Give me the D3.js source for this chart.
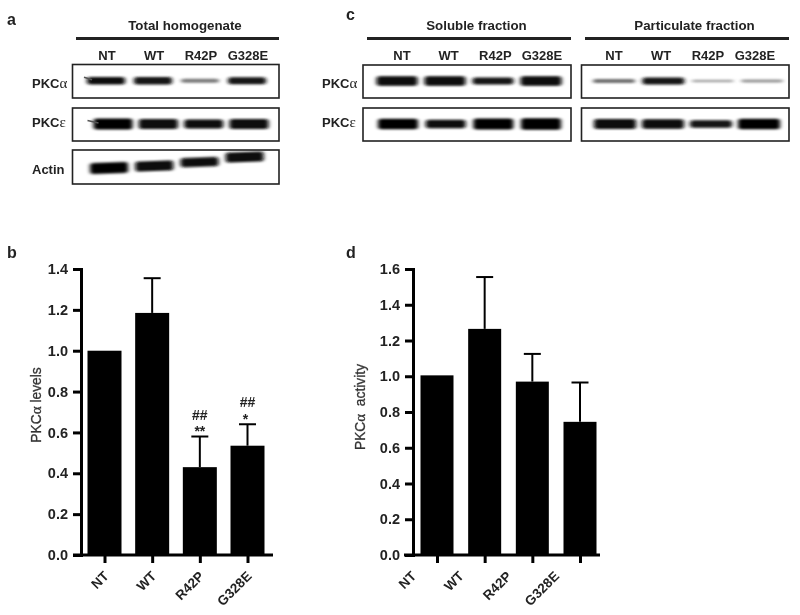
<!DOCTYPE html>
<html>
<head>
<meta charset="utf-8">
<title>PKC blots and bars</title>
<style>
  body { margin: 0; background: #fff; }
  text { font-family: "Liberation Sans", Arial, sans-serif; font-weight: bold; fill: #242424; }
  .greek { font-family: "Liberation Serif", serif; font-weight: normal; }
  .ytitle { font-weight: normal; font-size: 13.8px; fill: #333; stroke: #333; stroke-width: 0.3px; }
</style>
</head>
<body>
<svg width="800" height="615"></svg>
<script src="https://d3js.org/d3.v7.min.js"></script>
<script>

var lanes = ["NT", "WT", "R42P", "G328E"];

// bar values
var levelValues = [1.0, 1.185, 0.43, 0.535];
var levelErrors = [0, 0.17, 0.15, 0.105];
var levelTicks = [0, 0.2, 0.4, 0.6, 0.8, 1.0, 1.2, 1.4];

var activityValues = [1.005, 1.265, 0.97, 0.745];
var activityErrors = [0, 0.29, 0.155, 0.22];
var activityTicks = [0, 0.2, 0.4, 0.6, 0.8, 1.0, 1.2, 1.4, 1.6];

// significance marks above bars, per lane
var levelMarks = [null, null, ["##", "**"], ["##", "*"]];

// blots: density 0..1 of each band, drift = band shift against the lane mean
var totalAlpha = [0.62, 0.58, 0.22, 0.55];
var totalEpsilon = [0.95, 0.85, 0.75, 0.85];
var totalActin = [0.95, 0.85, 0.78, 0.85];
var actinDrift = [0.2, -0.05, -0.55, -1.2];
var solubleAlpha = [0.8, 0.8, 0.55, 0.8];
var solubleEpsilon = [0.92, 0.72, 0.95, 1.0];
var particulateAlpha = [0.25, 0.55, 0.1, 0.14];
var particulateEpsilon = [0.85, 0.8, 0.6, 0.9];
var noDrift = [0, 0, 0, 0];

var svg = d3.select("svg");

var defs = svg.append("defs");
defs.append("filter").attr("id", "smear")
    .attr("x", "-20%").attr("y", "-300%").attr("width", "140%").attr("height", "700%")
  .append("feGaussianBlur").attr("stdDeviation", "2.2 1.2");
defs.append("filter").attr("id", "soft")
  .append("feGaussianBlur").attr("stdDeviation", 0.35);
defs.append("filter").attr("id", "tail")
    .attr("x", "-50%").attr("y", "-200%").attr("width", "200%").attr("height", "500%")
  .append("feGaussianBlur").attr("stdDeviation", 0.7);

var page = svg.append("g").attr("filter", "url(#soft)");

function panelLetter(letter, x, y) {
  page.append("text").attr("x", x).attr("y", y).attr("font-size", 16).text(letter);
}

function proteinLabel(x, y, prefix, greek) {
  var t = page.append("text").attr("x", x).attr("y", y).attr("font-size", 13);
  t.append("tspan").text(prefix);
  if (greek) t.append("tspan").attr("class", "greek").attr("font-size", 15).text(greek);
}

function header(title, x0, x1, labelX0, labelX1, laneY) {
  page.append("line").attr("x1", x0).attr("x2", x1).attr("y1", 38.5).attr("y2", 38.5)
      .attr("stroke", "#222").attr("stroke-width", 2.8);
  page.append("text").attr("x", (x0 + x1) / 2 + 7.5).attr("y", 30).attr("text-anchor", "middle")
      .attr("font-size", 13.3).text(title);
  var x = d3.scalePoint().domain(lanes).range([labelX0, labelX1]);
  page.selectAll(null).data(lanes).enter().append("text")
      .attr("x", function(d) { return x(d); })
      .attr("y", laneY)
      .attr("text-anchor", "middle").attr("font-size", 13)
      .text(function(d) { return d; });
}

// one boxed blot strip; bands are blurred rounded rects
function blot(x0, x1, y0, y1, laneX0, laneX1, bandWidth, density, drift, tilt, tail) {
  var x = d3.scalePoint().domain(lanes).range([laneX0, laneX1]);
  var thick = d3.scaleLinear().domain([0, 1]).range([1.6, 11.5]);
  var shade = d3.scaleLinear().domain([0, 0.5, 1]).range(["#c8c8c8", "#161616", "#000"]);
  var mid = (y0 + y1) / 2;
  var clipId = "clip" + Math.round(x0) + "_" + Math.round(y0);
  defs.append("clipPath").attr("id", clipId).append("rect")
      .attr("x", x0).attr("y", y0).attr("width", x1 - x0).attr("height", y1 - y0);
  var strip = page.append("g").attr("clip-path", "url(#" + clipId + ")");
  strip.selectAll("rect").data(density).enter().append("rect")
      .attr("x", function(d, i) { return x(lanes[i]) - bandWidth / 2; })
      .attr("y", function(d, i) { return mid - thick(d) / 2 + drift[i] * 8 - 0.5; })
      .attr("width", bandWidth)
      .attr("height", function(d) { return thick(d); })
      .attr("rx", 3)
      .attr("fill", function(d) { return shade(d); })
      .attr("filter", "url(#smear)")
      .attr("transform", function(d, i) {
        return "rotate(" + tilt + " " + x(lanes[i]) + " " + mid + ")";
      });
  // thin smear running off the left end of the first band
  if (tail) {
    strip.append("line")
        .attr("x1", laneX0 - bandWidth / 2 - tail).attr("x2", laneX0 - bandWidth / 2 + 5)
        .attr("y1", mid - 4).attr("y2", mid - 1.5)
        .attr("stroke", "#555").attr("stroke-width", 1.5)
        .attr("filter", "url(#tail)");
  }
  page.append("rect").attr("x", x0).attr("y", y0).attr("width", x1 - x0).attr("height", y1 - y0)
      .attr("fill", "none").attr("stroke", "#222").attr("stroke-width", 1.6);
}

// panel a
panelLetter("a", 7, 25);
header("Total homogenate", 76, 279, 107, 248, 60);
proteinLabel(32, 88, "PKC", "α");
proteinLabel(32, 127, "PKC", "ε");
proteinLabel(32, 174, "Actin");
blot(72.5, 279, 64.5, 98, 106, 247, 38, totalAlpha, noDrift, 0, 3);
blot(72.5, 279, 108, 141, 113, 249, 39, totalEpsilon, noDrift, 0, 6);
blot(72.5, 279, 150, 184, 109, 245, 38, totalActin, actinDrift, -2);

// panel c
panelLetter("c", 346, 20);
header("Soluble fraction", 367, 571, 402, 542, 60);
header("Particulate fraction", 585, 789, 614, 755, 60);
proteinLabel(322, 88, "PKC", "α");
proteinLabel(322, 127, "PKC", "ε");
blot(363, 571, 65, 98, 397, 541, 41, solubleAlpha, noDrift, 0);
blot(363, 571, 108, 141, 398, 541, 40, solubleEpsilon, noDrift, 0);
blot(581.5, 789, 65, 98, 614, 762, 42, particulateAlpha, noDrift, 0);
blot(581.5, 789, 108, 141, 615, 759, 42, particulateEpsilon, noDrift, 0);

// bar panels
function barPanel(o) {
  var y = d3.scaleLinear().domain([0, o.top]).range([555, 269]);
  var x = d3.scalePoint().domain(lanes).range(o.laneRange);
  var g = page.append("g");

  var axisY = g.append("g").attr("transform", "translate(" + o.axisX + ",0)")
      .call(d3.axisLeft(y).tickValues(o.ticks).tickFormat(d3.format(".1f")).tickSize(8).tickPadding(5));
  axisY.selectAll("text").attr("font-size", 14.5).attr("font-family", null);

  g.selectAll(".bar").data(lanes).enter().append("rect")
      .attr("class", "bar")
      .attr("x", function(d) { return x(d) - o.barWidth / 2; })
      .attr("y", function(d, i) { return y(o.values[i]); })
      .attr("width", o.barWidth)
      .attr("height", function(d, i) { return y(0) - y(o.values[i]); })
      .attr("fill", "#000");

  lanes.forEach(function(lane, i) {
    if (!o.errors[i]) return;
    var top = y(o.values[i] + o.errors[i]);
    g.append("line").attr("x1", x(lane)).attr("x2", x(lane))
        .attr("y1", y(o.values[i])).attr("y2", top)
        .attr("stroke", "#000").attr("stroke-width", 2);
    g.append("line").attr("x1", x(lane) - 8.5).attr("x2", x(lane) + 8.5)
        .attr("y1", top).attr("y2", top)
        .attr("stroke", "#000").attr("stroke-width", 2);
  });

  var axisX = g.append("g").attr("transform", "translate(0,555)")
      .call(d3.axisBottom(x).tickSize(8).tickFormat(""));
  axisX.select(".domain").remove();
  g.append("line").attr("x1", o.baseStart).attr("x2", o.baseEnd).attr("y1", 555).attr("y2", 555)
      .attr("stroke", "#000").attr("stroke-width", 3);

  g.selectAll(".xlab").data(lanes).enter().append("text")
      .attr("class", "xlab")
      .attr("text-anchor", "end").attr("font-size", 13.5)
      .attr("transform", function(d) {
        return "translate(" + (x(d) + o.labelShift) + ",577) rotate(-45)";
      })
      .text(function(d) { return d; });

  g.selectAll(".tick line").attr("stroke", "#000").attr("stroke-width", 3);
  axisY.select(".domain").attr("stroke", "#000").attr("stroke-width", 3);

  var title = g.append("text").attr("class", "ytitle")
      .attr("text-anchor", "middle")
      .attr("transform", "translate(" + o.titleX + "," + o.titleY + ") rotate(-90)");
  title.append("tspan").text("PKC");
  title.append("tspan").attr("class", "greek").attr("font-size", 15).text("α");
  title.append("tspan").attr("xml:space", "preserve").text(o.titleRest);
}

panelLetter("b", 7, 258);
barPanel({
  axisX: 81, top: 1.4, ticks: levelTicks, values: levelValues, errors: levelErrors,
  laneRange: [104.5, 247.5], barWidth: 34, baseStart: 73, baseEnd: 273,
  labelShift: 5, titleX: 41, titleY: 405, titleRest: " levels"
});

// ## and * marks for panel b
var markX = d3.scalePoint().domain(lanes).range([104.5, 247.5]);
var markY = d3.scaleLinear().domain([0, 1.4]).range([555, 269]);
levelMarks.forEach(function(marks, i) {
  if (!marks) return;
  var top = levelValues[i] + levelErrors[i];
  page.append("text").attr("x", markX(lanes[i])).attr("y", markY(top) - 17)
      .attr("text-anchor", "middle").attr("font-size", 14).text(marks[0]);
  page.append("text").attr("x", markX(lanes[i]) - (marks[1].length === 1 ? 2 : 0)).attr("y", markY(top) - 0.5)
      .attr("text-anchor", "middle").attr("font-size", 14).text(marks[1]);
});

panelLetter("d", 346, 258);
barPanel({
  axisX: 413, top: 1.6, ticks: activityTicks, values: activityValues, errors: activityErrors,
  laneRange: [437, 580], barWidth: 33, baseStart: 404, baseEnd: 600,
  labelShift: -20, titleX: 365, titleY: 407, titleRest: "  activity"
});

</script>
</body>
</html>
